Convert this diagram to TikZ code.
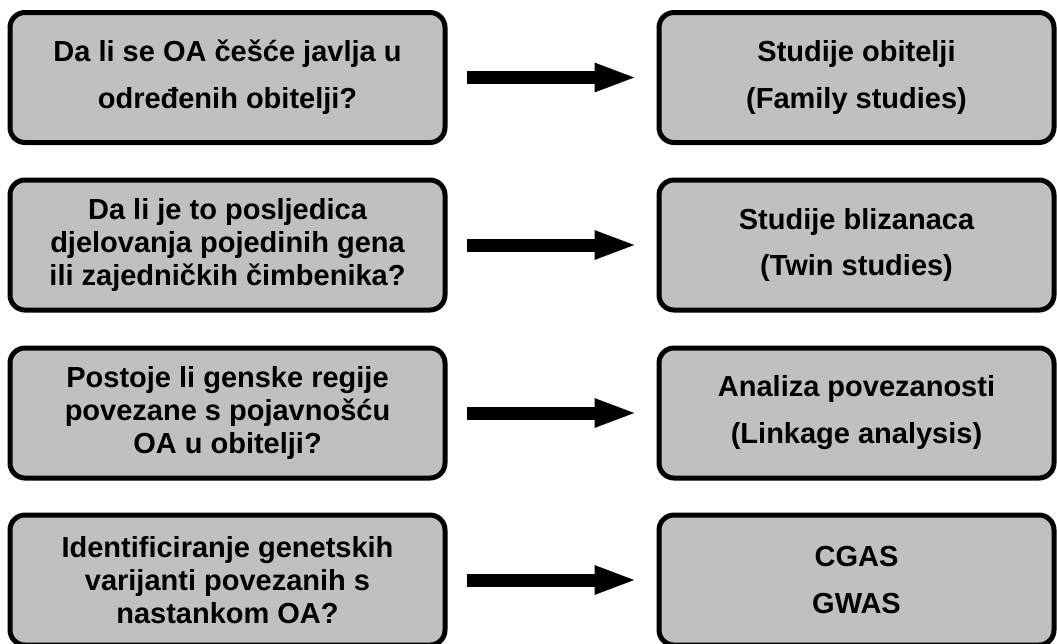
\documentclass[tikz,border=0pt]{standalone}
\usepackage{fontspec}
\setmainfont{Liberation Sans}
\usepackage{tikz}
\usepackage{xcolor}
\usetikzlibrary{arrows.meta}
\definecolor{boxgray}{HTML}{C0C0C0}
\tikzstyle{card} = [rectangle, rounded corners=0.3cm, draw=black, line width=0.1cm, fill=boxgray, align=center, inner sep=0pt]
\tikzstyle{question} = [card, minimum width=8.7cm, minimum height=2.6cm, font=\bfseries\fontsize{16.5pt}{18.8pt}\selectfont]
\tikzstyle{method} = [card, minimum width=7.9cm, minimum height=2.6cm, font=\bfseries\fontsize{16.5pt}{26.7pt}\selectfont]

\begin{document}
\begin{tikzpicture}
			\useasboundingbox (0,0) rectangle (21.14,-12.86);
\node[question, font=\bfseries\fontsize{16.5pt}{26.7pt}\selectfont] (q1) at (4.55,-1.55) {Da li se OA češće javlja u\\određenih obitelji?};
\node[question] (q2) at (4.55,-4.9) {Da li je to posljedica\\djelovanja pojedinih gena\\ili zajedničkih čimbenika?};
\node[question] (q3) at (4.55,-8.26) {Postoje li genske regije\\povezane s pojavnošću\\OA u obitelji?};
\node[question] (q4) at (4.55,-11.6) {Identificiranje genetskih\\varijanti povezanih s\\nastankom OA?};

\node[method] (m1) at (17.13,-1.55) {Studije obitelji\\(Family studies)};
\node[method] (m2) at (17.13,-4.9) {Studije blizanaca\\(Twin studies)};
\node[method] (m3) at (17.13,-8.26) {Analiza povezanosti\\(Linkage analysis)};
\node[method] (m4) at (17.13,-11.6) {CGAS\\GWAS};

\foreach \from/\to in {q1/m1,q2/m2,q3/m3,q4/m4}
{
	\draw[line width=0.26cm, -{Triangle[length=0.86cm,width=0.52cm]}, shorten <=0.38cm, shorten >=0.38cm] (\from) -- (\to);
}

		\end{tikzpicture}
\end{document}
